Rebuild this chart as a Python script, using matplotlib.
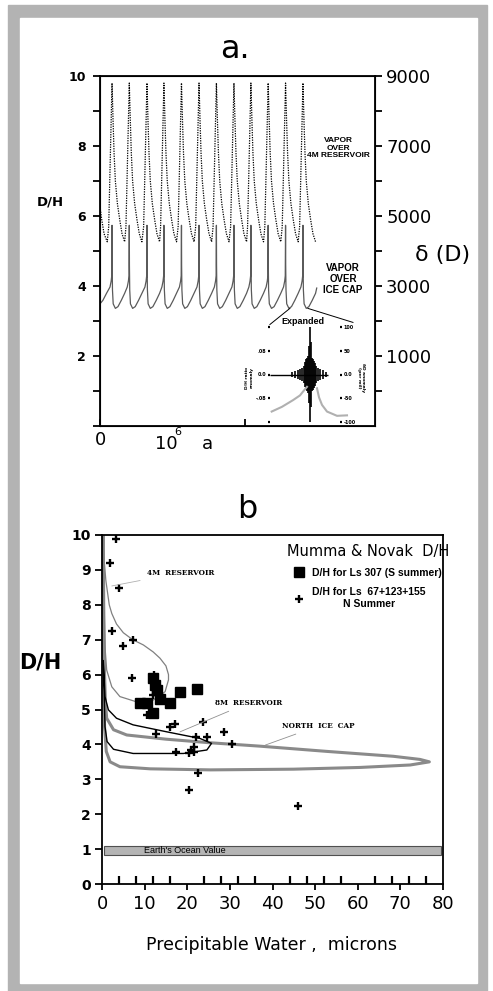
import numpy as np
import matplotlib
matplotlib.use('Agg')
import matplotlib.pyplot as plt
from matplotlib.patches import Rectangle

W, H = 493, 991
NARROW = ['Liberation Sans', 'DejaVu Sans']

# ---------- panel a : D/H of vapour over time (kyr) ----------
peak_kyr = [83, 202, 324, 441, 562, 683, 803, 924, 1041, 1160, 1280, 1400]

# vapour over 4M reservoir (dotted)
res_start_t = [0, 12, 28, 50]
res_start_v = [6.27, 5.9, 5.5, 5.27]
res_rise_dt = [-23, -14]
res_rise_v = [5.7, 7.3]
res_fall_dt = [0, 7, 14, 23, 37, 53, 69, 87]
res_fall_v = [9.8, 8.74, 7.8, 7.0, 6.36, 5.9, 5.5, 5.27]

# vapour over ice cap (solid grey)
ice_start_t = [0, 20, 45]
ice_start_v = [3.5, 3.6, 3.8]
ice_rise_dt = [-14, -6, -2]
ice_rise_v = [3.98, 4.15, 4.3]
ice_fall_dt = [0, 1, 3, 8, 23, 41, 64, 87]
ice_fall_v = [5.74, 4.6, 3.9, 3.5, 3.37, 3.42, 3.6, 3.8]
ice_end_t = [1495]
ice_end_v = [3.95]

# expanded inset
spike_x = [22, 25, 28, 30, 32, 34, 35, 36, 37, 38, 39, 40, 41, 42, 43, 44, 45, 46, 48, 50, 53, 56]
spike_amp = [6, 8, 10, 12, 14, 18, 26, 32, 34, 38, 60, 100, 68, 34, 32, 28, 24, 18, 14, 12, 9, 6]
gl_x = [1.7, 12, 23, 30, 33, 37]
gl_y = [-78, -68, -54, -44, -36, -26]
gr_x = [47, 49, 52, 57, 67, 77]
gr_y = [-29, -48, -64, -78, -87, -86]

# ---------- panel b : D/H vs precipitable water ----------
sq_pw = [12.0, 12.4, 12.8, 8.8, 10.5, 13.5, 16.0, 18.4, 22.4, 12.0]
sq_dh = [5.89, 5.70, 5.56, 5.20, 5.20, 5.29, 5.20, 5.50, 5.60, 4.89]
cr_pw = [3.4, 1.9, 4.1, 2.3, 7.2, 5.0, 7.1, 12.3, 12.0, 10.5, 16.0, 17.1, 23.8,
         12.7, 22.1, 24.6, 28.6, 30.4, 17.4, 20.3, 20.8, 21.7, 21.7, 22.5, 20.3, 46.0]
cr_dh = [9.88, 9.19, 8.49, 7.24, 6.99, 6.81, 5.90, 5.99, 5.42, 4.84, 4.51, 4.58, 4.65,
         4.30, 4.20, 4.20, 4.35, 4.00, 3.79, 3.74, 3.84, 3.92, 3.79, 3.19, 2.69, 2.24]

res4_pw = [0.1, 0.5, 0.9, 1.7, 2.3, 3.4, 5.0, 7.2, 9.7, 12.0, 13.6, 15.0, 15.6, 15.6,
           14.8, 12.0, 8.1, 4.2, 2.3, 1.1, 0.7, 0.5, 0.3, 0.2]
res4_dh = [10.0, 9.3, 8.7, 8.0, 7.75, 7.45, 7.2, 7.0, 6.85, 6.65, 6.47, 6.25, 6.0, 5.85,
           5.51, 5.27, 5.22, 5.37, 5.65, 6.13, 6.8, 8.0, 9.0, 10.0]

res8_pw = [0.3, 0.5, 0.7, 1.5, 3.4, 7.3, 15.2, 23.0, 25.7, 24.6, 19.1, 7.3, 2.7, 1.2, 0.7, 0.5, 0.3]
res8_dh = [6.4, 5.9, 5.37, 4.99, 4.75, 4.56, 4.36, 4.17, 4.03, 3.84, 3.74, 3.74, 3.86, 4.08, 4.51, 5.5, 6.3]

cap_pw = [0.3, 0.4, 0.6, 0.8, 1.1, 2.7, 5.8, 15, 25, 37, 52.7, 68.3, 74.6, 76.8, 72.3,
          60.6, 44.9, 25.4, 11.3, 4.2, 1.9, 1.0, 0.6, 0.4, 0.3, 0.2]
cap_dh = [10, 8, 6, 5.2, 4.75, 4.42, 4.27, 4.15, 4.05, 3.95, 3.8, 3.66, 3.57, 3.5, 3.41,
          3.34, 3.29, 3.27, 3.3, 3.36, 3.5, 3.8, 4.5, 6, 8, 10]

ocean_lo, ocean_hi = 0.83, 1.1


def cycles(start_t, start_v, rise_dt, rise_v, fall_dt, fall_v):
    t, v = list(start_t), list(start_v)
    for p in peak_kyr:
        t += [p + d for d in rise_dt] + [p + d for d in fall_dt]
        v += rise_v + fall_v
    return t, v


fig = plt.figure(figsize=(W / 100, H / 100), dpi=100)


def px_axes(l, t, r, b):
    return fig.add_axes([l / W, 1 - b / H, (r - l) / W, (b - t) / H])


def ftext(x, y, s, **kw):
    fig.text(x / W, 1 - y / H, s, **kw)


# grey frame
fig.patches.append(Rectangle((8 / W, 0), 479 / W, 986 / H, transform=fig.transFigure,
                             color='#b3b3b3', zorder=-5))
fig.patches.append(Rectangle((20 / W, 8 / H), 457 / W, 965 / H, transform=fig.transFigure,
                             color='white', zorder=-4))

# ---- panel a ----
axA = px_axes(100, 76, 375, 426.5)
t, v = cycles(res_start_t, res_start_v, res_rise_dt, res_rise_v, res_fall_dt, res_fall_v)
axA.plot(t, v, color='black', lw=0.9, ls=(0, (1, 1)))
t, v = cycles(ice_start_t, ice_start_v, ice_rise_dt, ice_rise_v, ice_fall_dt, ice_fall_v)
axA.plot(t + ice_end_t, v + ice_end_v, color='#5a5a5a', lw=0.9)
axA.set_xlim(0, 1897)
axA.set_ylim(0, 10)
axA.set_yticks(range(0, 11))
axA.set_yticklabels(['', '', '2', '', '4', '', '6', '', '8', '', '10'],
                    fontweight='bold', fontsize=9)
axA.tick_params(axis='y', length=5, width=1.3, pad=5)
axA.set_xticks([0, 1000])
axA.set_xticklabels(['0', ''], fontsize=13)
axA.tick_params(axis='x', direction='in', length=5, width=1.3, pad=3)
for s in axA.spines.values():
    s.set_linewidth(1.3)

axA2 = axA.twinx()
axA2.set_ylim(-1000, 9000)
axA2.set_yticks(range(0, 9001, 1000))
axA2.set_yticklabels(['', '1000', '', '3000', '', '5000', '', '7000', '', '9000'], fontsize=13)
axA2.tick_params(axis='y', length=5, width=1.3, pad=3)

ftext(235, 50, 'a.', fontsize=23, ha='center', va='center')
ftext(50, 202, 'D/H', fontsize=9.5, fontweight='bold', ha='center', va='center')
ftext(443, 255, 'δ (D)', fontsize=16, ha='center', va='center')
ftext(166, 444, '10', fontsize=13, ha='center', va='center')
ftext(178, 432, '6', fontsize=8, ha='center', va='center')
ftext(207, 444, 'a', fontsize=13, ha='center', va='center')
ftext(338, 148, 'VAPOR\nOVER\n4M RESERVOIR', fontsize=6, fontweight='bold',
      family=NARROW, ha='center', va='center', multialignment='center', linespacing=1.1)
ftext(343, 279, 'VAPOR\nOVER\nICE CAP', fontsize=7, fontweight='bold',
      family=NARROW, ha='center', va='center', multialignment='center', linespacing=1.1)
ftext(303, 321, 'Expanded', fontsize=6.5, fontweight='bold', family=NARROW,
      ha='center', va='center')

# leader lines to the inset (data coords of panel a)
axA.plot([1172, 1310], [2.91, 3.37], color='black', lw=0.7, clip_on=False)
axA.plot([1434, 1745], [3.37, 2.97], color='black', lw=0.7, clip_on=False)

# inset
axI = px_axes(270, 327, 340, 422)
axI.set_xlim(0, 70)
axI.set_ylim(-100, 100)
axI.patch.set_alpha(0)
for s in axI.spines.values():
    s.set_visible(False)
axI.set_xticks([])
axI.hlines(0, 0, 58, color='black', lw=1.0)
axI.vlines(spike_x, [-a for a in spike_amp], spike_amp, color='black', lw=1.2)
axI.plot(gl_x, gl_y, color='#b0b0b0', lw=1.5, clip_on=False)
axI.plot(gr_x, gr_y, color='#b0b0b0', lw=1.5, clip_on=False)
axI.set_yticks([-100, -50, 0, 50, 100])
axI.set_yticklabels(['', '-.08', '0.0', '.08', ''], fontsize=3.5, fontweight='bold')
axI.tick_params(axis='y', length=1.2, width=1.6, pad=1.5)
axI2 = axI.twinx()
axI2.set_ylim(-100, 100)
for s in axI2.spines.values():
    s.set_visible(False)
axI2.set_yticks([-100, -50, 0, 50, 100])
axI2.set_yticklabels(['-100', '-50', '0.0', '50', '100'], fontsize=3.5, fontweight='bold')
axI2.tick_params(axis='y', length=1.2, width=1.6, pad=1.5)
ftext(249, 378, 'D/H ratio\nanomaly', fontsize=3.2, fontweight='bold', rotation=90,
      ha='center', va='center', multialignment='center')
ftext(361, 378, 'δD anomaly\n(per mil)', fontsize=3.2, fontweight='bold', rotation=-90,
      ha='center', va='center', multialignment='center')

# ---- panel b ----
axB = px_axes(102, 535, 443, 884)
axB.axhspan(ocean_lo, ocean_hi, xmin=0.005, xmax=0.995, facecolor='#b4b4b4',
            edgecolor='#505050', lw=0.8)
axB.text(19.5, (ocean_lo + ocean_hi) / 2, "Earth's Ocean Value", fontsize=6.5,
         family=NARROW, ha='center', va='center')
axB.plot(cap_pw, cap_dh, color='#8a8a8a', lw=2.2)
axB.plot(res4_pw, res4_dh, color='#808080', lw=0.9)
axB.plot(res8_pw, res8_dh, color='black', lw=1.0)
axB.plot(sq_pw, sq_dh, ls='none', marker='s', ms=6.5, color='black',
         label='D/H for Ls 307 (S summer)')
axB.plot(cr_pw, cr_dh, ls='none', marker='+', ms=6, mew=1.7, color='black',
         label='D/H for Ls  67+123+155\nN Summer')

lab = dict(fontsize=5.2, fontweight='bold', family='DejaVu Serif', ha='left', va='center')
axB.annotate('4M  RESERVOIR', xy=(2.3, 8.54), xytext=(10.6, 8.92), **lab,
             arrowprops=dict(arrowstyle='-', color='#b0b0b0', lw=0.6, shrinkA=4, shrinkB=0))
axB.annotate('8M  RESERVOIR', xy=(18.3, 4.36), xytext=(26.5, 5.19), **lab,
             arrowprops=dict(arrowstyle='-', color='#909090', lw=0.6, shrinkA=3, shrinkB=0))
axB.annotate('NORTH  ICE  CAP', xy=(38.3, 3.98), xytext=(42.3, 4.53), **lab,
             arrowprops=dict(arrowstyle='-', color='#909090', lw=0.6, shrinkA=3, shrinkB=0))

axB.set_xlim(0, 80)
axB.set_ylim(0, 10)
axB.set_yticks(range(0, 11))
axB.set_yticklabels([str(i) for i in range(0, 11)], fontweight='bold', fontsize=10)
axB.tick_params(axis='y', length=5, width=1.3, pad=3)
axB.set_xticks(range(0, 81, 10))
axB.set_xticklabels([str(i) for i in range(0, 81, 10)], fontsize=13)
axB.tick_params(axis='x', which='major', direction='out', length=4, width=1.3, pad=4)
axB.set_xticks(range(4, 81, 4), minor=True)
axB.tick_params(axis='x', which='minor', direction='in', length=6, width=1.6)
for s in axB.spines.values():
    s.set_linewidth(1.3)

leg = axB.legend(loc='upper center', bbox_to_anchor=((368 - 102) / 341, 0.975),
                 frameon=False, title='Mumma & Novak  D/H', title_fontsize=10.5,
                 prop=dict(family=NARROW, weight='bold', size=7.5),
                 handlelength=1.0, handletextpad=0.8, labelspacing=0.9,
                 borderpad=0, borderaxespad=0)
leg.get_texts()[1].set_multialignment('center')

ftext(247, 510, 'b', fontsize=23, ha='center', va='center')
ftext(40, 663, 'D/H', fontsize=15, fontweight='bold', ha='center', va='center')
ftext(272, 945, 'Precipitable Water ,  microns', fontsize=12.5, ha='center', va='center')

fig.savefig('out.png', dpi=100)
